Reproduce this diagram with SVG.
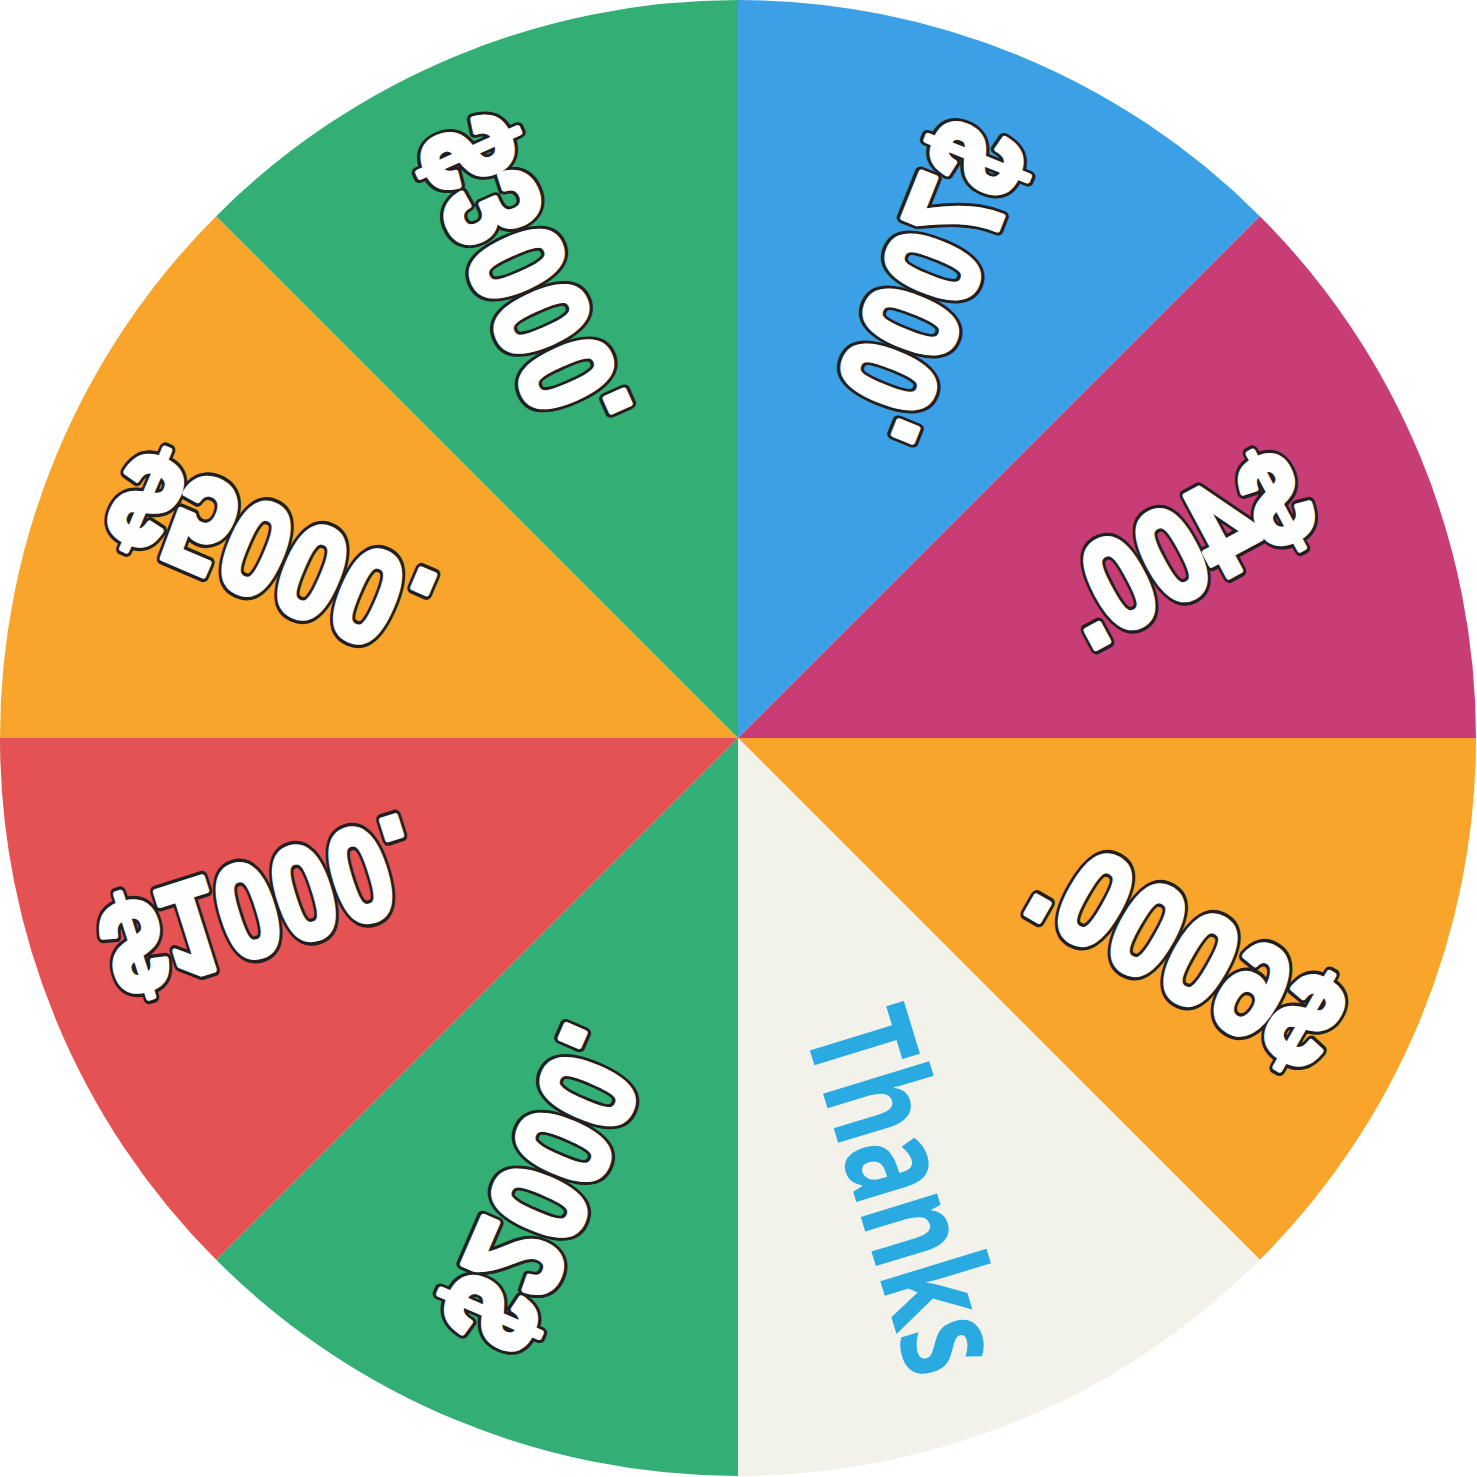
<svg xmlns="http://www.w3.org/2000/svg" width="1477" height="1477" viewBox="0 0 1477 1477">
<style>
.amt{font-family:"Liberation Sans",Arial,sans-serif;font-weight:bold;font-size:133px;text-anchor:middle;stroke-linejoin:round}
.amt-o{fill:#231F20;stroke:#231F20;stroke-width:13}
.amt-f{fill:#FFFFFF;stroke:#FFFFFF;stroke-width:6}
.thx{font-family:"Open Sans","Liberation Sans",sans-serif;font-weight:700;font-size:146px;fill:#29AAE1;text-anchor:middle}
</style>
<rect width="1477" height="1477" fill="#FFFFFF"/>
<g id="wheel">
<path id="s-blue" d="M738,738 L738,0 A738,738 0 0 1 1259.85,216.15 Z" fill="#3BA0E6"/>
<path id="s-magenta" d="M738,738 L1259.85,216.15 A738,738 0 0 1 1476,738 Z" fill="#C93D76"/>
<path id="s-orange1" d="M738,738 L1476,738 A738,738 0 0 1 1259.85,1259.85 Z" fill="#F9A52B"/>
<path id="s-cream" d="M738,738 L1259.85,1259.85 A738,738 0 0 1 738,1476 Z" fill="#F2F2EA"/>
<path id="s-green1" d="M738,738 L738,1476 A738,738 0 0 1 216.15,1259.85 Z" fill="#33AE74"/>
<path id="s-red" d="M738,738 L216.15,1259.85 A738,738 0 0 1 0,738 Z" fill="#E55253"/>
<path id="s-orange2" d="M738,738 L0,738 A738,738 0 0 1 216.15,216.15 Z" fill="#F9A52B"/>
<path id="s-green2" d="M738,738 L216.15,216.15 A738,738 0 0 1 738,0 Z" fill="#33AE74"/>
</g>
<g id="label-7000" class="amt" transform="translate(925.5,280.3) rotate(111.8) scale(0.8,-1)"><text class="amt-o" y="47.6">$7000.</text><text class="amt-f" y="47.6">$7000.</text></g>
<g id="label-400" class="amt" transform="translate(1183.7,546.8) rotate(151.8) scale(0.8,-1)"><text class="amt-o" y="47.6">$400.</text><text class="amt-f" y="47.6">$400.</text></g>
<g id="label-6000" class="amt" transform="translate(1187.8,951.1) rotate(209.7) scale(0.82,-1)"><text class="amt-o" y="47.6">$6000.</text><text class="amt-f" y="47.6">$6000.</text></g>
<g id="label-thanks" transform="translate(857.5,1206) rotate(73) scale(0.7,1)"><text class="thx" x="0" y="0">Thanks</text></g>
<g id="label-2000" class="amt" transform="translate(547,1189.6) rotate(-66.6) scale(0.82,-1)"><text class="amt-o" y="47.6">$2000.</text><text class="amt-f" y="47.6">$2000.</text></g>
<g id="label-1000" class="amt" transform="translate(262.1,908.3) rotate(-17.6) scale(0.8,-1)"><text class="amt-o" y="47.6">$1000.</text><text class="amt-f" y="47.6">$1000.</text></g>
<g id="label-5000" class="amt" transform="translate(269.6,556.3) rotate(23.2) scale(0.82,-1)"><text class="amt-o" y="47.6">$5000.</text><text class="amt-f" y="47.6">$5000.</text></g>
<g id="label-3000" class="amt" transform="translate(521.3,278.2) rotate(65.9) scale(0.82,-1)"><text class="amt-o" y="47.6">$3000.</text><text class="amt-f" y="47.6">$3000.</text></g>
</svg>
